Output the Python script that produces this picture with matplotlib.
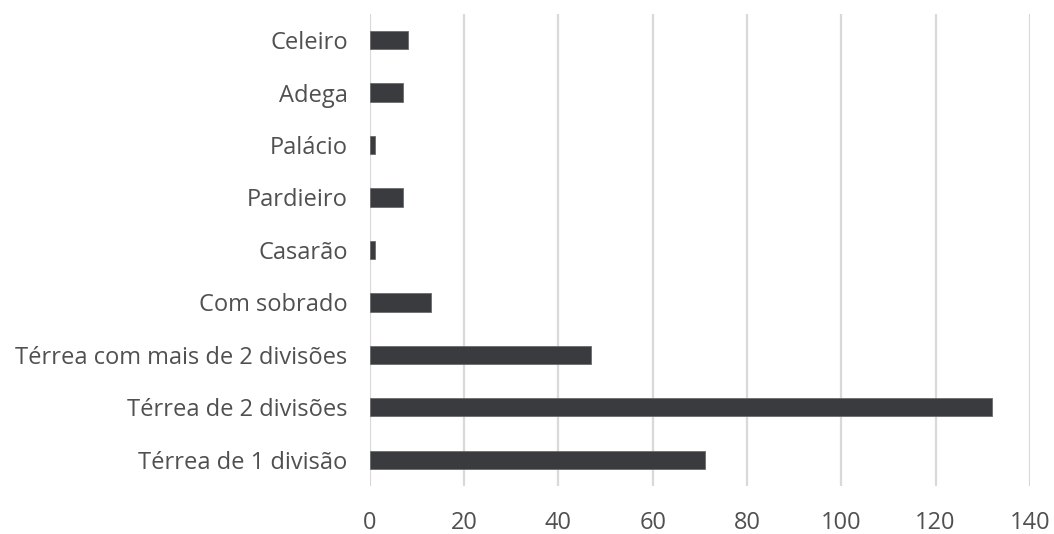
import matplotlib.pyplot as plt

categories = ['Térrea de 1 divisão', 'Térrea de 2 divisões', 'Térrea com mais de 2 divisões',
              'Com sobrado', 'Casarão', 'Pardieiro', 'Palácio', 'Adega', 'Celeiro']
values = [71, 132, 47, 13, 1, 7, 1, 7, 8]
xticks = [0, 20, 40, 60, 80, 100, 120, 140]

plt.rcParams['font.family'] = ['Open Sans', 'DejaVu Sans']

fig = plt.figure(figsize=(10.54, 5.34), dpi=100)
ax = fig.add_axes([0.351, 0.09, 0.626, 0.884])

ypos = range(len(categories))
ax.barh(ypos, values, height=0.35, color='#3a3b3f', edgecolor='#6a6b6e', linewidth=0.6, zorder=3)

ax.set_xlim(0, 140)
ax.set_ylim(-0.5, len(categories) - 0.5)
ax.set_xticks(xticks)
ax.set_yticks(list(ypos))
ax.set_yticklabels(categories)
ax.grid(axis='x', color='#d9d9d9', linewidth=1.6, zorder=0)
for s in ['top', 'right', 'bottom', 'left']:
    ax.spines[s].set_visible(False)
ax.tick_params(axis='both', length=0, labelsize=17, colors='#505050')
ax.tick_params(axis='y', pad=16)
ax.tick_params(axis='x', pad=18)

fig.savefig('out.png', dpi=100)
